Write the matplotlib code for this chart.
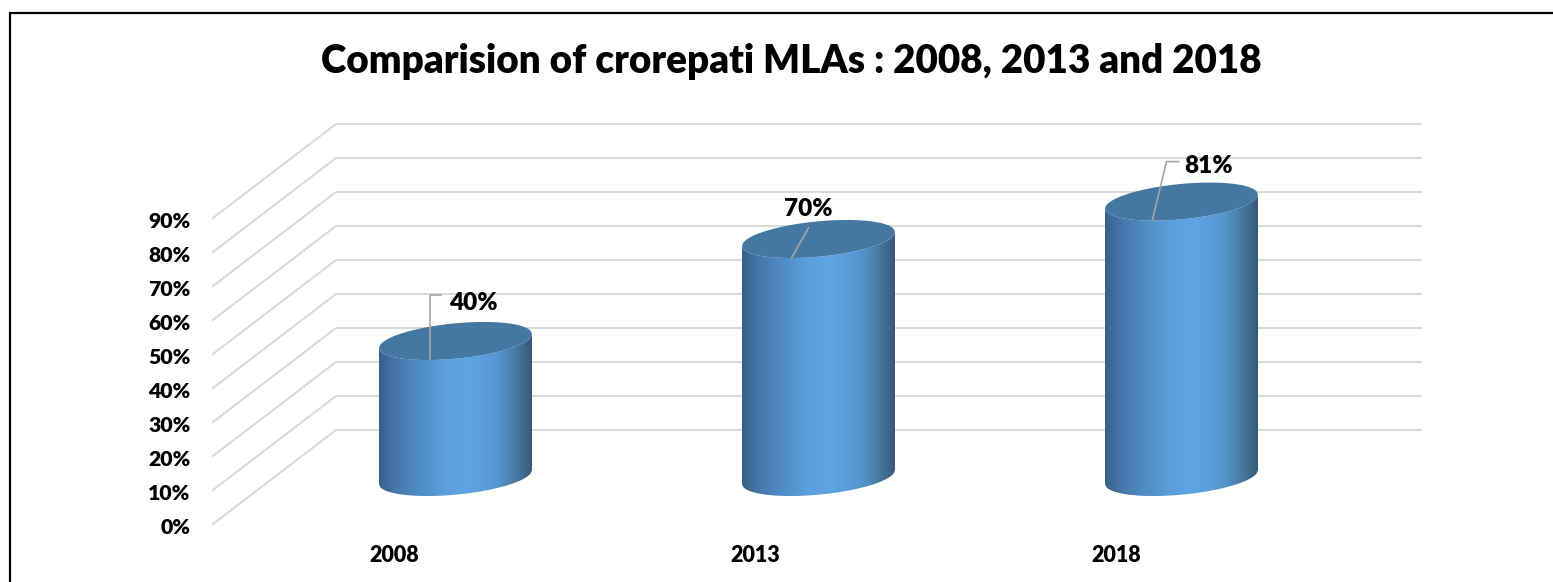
import matplotlib
matplotlib.use("Agg")
import matplotlib.pyplot as plt
import numpy as np
from matplotlib.colors import LinearSegmentedColormap
from matplotlib.patches import PathPatch, Polygon
from matplotlib.path import Path

plt.rcParams['font.family'] = ['Lato', 'DejaVu Sans']

years = ["2008", "2013", "2018"]
values = [40, 70, 81]
y_ticks = [0, 10, 20, 30, 40, 50, 60, 70, 80, 90]
title = "Comparision of crorepati MLAs : 2008, 2013 and 2018"

W, H = 1553, 582
# one unit on x = 363 px between bars, one percent = 3.4 px
PX_X = 363.0
PX_Y = 3.4
X0, Y0 = 455.5, 477.0


def dx(px):
    return px / PX_X


def dy(px):
    return px / PX_Y


fig = plt.figure(figsize=(W / 100, H / 100), dpi=100)
ax = fig.add_axes([0, 0, 1, 1])
ax.set_xlim(-X0 / PX_X, (W - X0) / PX_X)
ax.set_ylim((Y0 - H) / PX_Y, Y0 / PX_Y)
ax.axis("off")

# frame around the chart
left = dx(9.5 - X0)
top = dy(Y0 - 13)
bottom = dy(Y0 - H)
right = dx(W - X0)
ax.plot([left, left, right], [bottom, top, top], color="black", lw=1.6, zorder=1,
        solid_joinstyle="miter")

# side wall and back wall grid
x_front, x_back, x_end = dx(213 - X0), dx(336 - X0), dx(1421 - X0)
for v in y_ticks:
    ax.plot([x_front, x_back, x_end], [v - dy(47), v + dy(47), v + dy(47)],
            color="#d9d9d9", lw=1.4, zorder=2)
    ax.text(dx(190.5 - X0), v - dy(50), f"{v}%", ha="right", va="center",
            fontsize=15.3, fontweight="heavy", color="black")

body_cmap = LinearSegmentedColormap.from_list("cyl", [
    (0.0, "#376089"), (0.10, "#4476a6"), (0.25, "#4f8ac4"), (0.42, "#5b9fdd"),
    (0.58, "#5fa5e4"), (0.78, "#5596d0"), (0.90, "#47799f"), (1.0, "#36597a")])

half_w = dx(76.5)
skew = dy(7)
minor = dy(17.7)
u = np.linspace(-1, 1, 120)
for i, (year, val) in enumerate(zip(years, values)):
    xs = i + u * half_w
    # lower half of an ellipse at the base, upper side of the body follows the top ellipse front
    base_y = skew * u - minor * np.sqrt(1 - u ** 2)
    top_front = val + skew * u - minor * np.sqrt(1 - u ** 2)
    top_back = val + skew * u + minor * np.sqrt(1 - u ** 2)

    outline = np.vstack([np.column_stack([xs, base_y]),
                         np.column_stack([xs[::-1], top_front[::-1]])])
    clip = PathPatch(Path(np.vstack([outline, outline[0]])), transform=ax.transData,
                     facecolor="none", edgecolor="none")
    ax.add_patch(clip)
    img = ax.imshow(np.linspace(0, 1, 256).reshape(1, -1), cmap=body_cmap, aspect="auto",
                    extent=[i - half_w, i + half_w, -dy(25), val + dy(25)], zorder=3,
                    interpolation="bilinear")
    img.set_clip_path(clip)

    lid = np.vstack([np.column_stack([xs, top_front]),
                     np.column_stack([xs[::-1], top_back[::-1]])])
    ax.add_patch(Polygon(lid, closed=True, facecolor="#4577a3", edgecolor="none", zorder=4))

    ax.text(i - dx(61 + 2 * i), dy(Y0 - 556), year, ha="center", va="center",
            fontsize=15.5, fontweight="heavy", color="black")

# data label leaders, offsets are from the bar top
leaders = [[(-25, -18), (-25, 46), (-14, 46)],
           [(-27, -19), (-10, 11)],
           [(-29, -18), (-15, 40), (-3, 40)]]
label_pos = [(17.5, 38.5), (-10, 29.5), (27.5, 35.5)]
for i, val in enumerate(values):
    pts = np.array(leaders[i], dtype=float)
    ax.plot(i + pts[:, 0] / PX_X, val + pts[:, 1] / PX_Y, color="#a6a6a6", lw=1.2, zorder=5)
    ox, oy = label_pos[i]
    ax.text(i + dx(ox), val + dy(oy), f"{val}%", ha="center", va="center",
            fontsize=17.5, fontweight="heavy", color="black", zorder=6)

ax.text(dx(791.5 - X0), dy(Y0 - 62), title, ha="center", va="center",
        fontsize=27.8, fontweight="heavy", color="black")

fig.savefig("out.png", dpi=100)
